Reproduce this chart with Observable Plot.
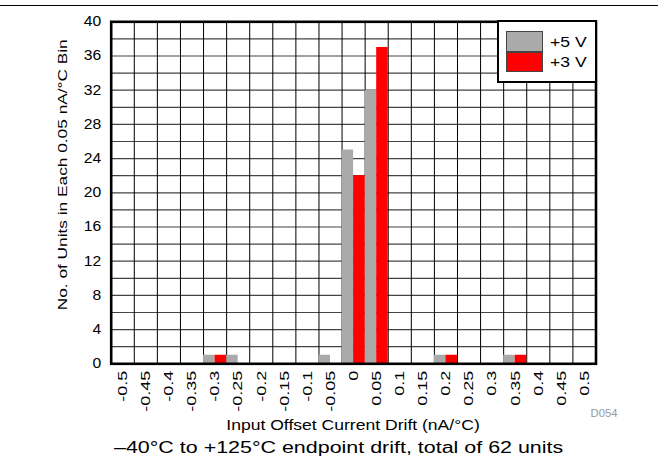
<!DOCTYPE html>
<html>
<head>
<meta charset="utf-8">
<script src="https://cdn.jsdelivr.net/npm/d3@7"></script>
<script src="https://cdn.jsdelivr.net/npm/@observablehq/plot@0.6"></script>
<style>
  html, body { margin: 0; padding: 0; background: #fff; }
  #wrap { position: relative; width: 658px; height: 464px; overflow: hidden;
          font-family: "Liberation Sans", Arial, Helvetica, sans-serif; }
  #topline { position: absolute; left: 0; top: 5px; width: 658px; height: 0; border-top: 1.6px solid #000; }
  #legend { position: absolute; left: 496.5px; top: 20px; width: 100.3px; height: 63px;
            box-sizing: border-box; border: 2.5px solid #000; background: #fff; }
  .sw { position: absolute; left: 506px; width: 36.7px; height: 20.7px; box-sizing: border-box; border: 1px solid #444; }
  .lt { position: absolute; left: 550px; font-size: 15px; line-height: 15px; color: #000; white-space: nowrap;
        transform: scaleX(1.17); transform-origin: 0 0; }
</style>
</head>
<body>
<div id="wrap"></div>
<script>
// ---- data ----
const binLabels = ["-0.5","-0.45","-0.4","-0.35","-0.3","-0.25","-0.2","-0.15","-0.1","-0.05","0","0.05","0.1","0.15","0.2","0.25","0.3","0.35","0.4","0.45","0.5"];
const binCenters = [-0.5,-0.45,-0.4,-0.35,-0.3,-0.25,-0.2,-0.15,-0.1,-0.05,0,0.05,0.1,0.15,0.2,0.25,0.3,0.35,0.4,0.45,0.5];
const units5V = [0,0,0,0,1,1,0,0,0,1,25,32,0,0,1,0,0,1,0,0,0];
const units3V = [0,0,0,0,1,0,0,0,0,0,22,37,0,0,1,0,0,1,0,0,0];
const seriesNames = ["+5 V", "+3 V"];
const seriesColors = ["#aaaaaa", "#ff0000"];
const yTicks = [0,4,8,12,16,20,24,28,32,36,40];
const yGrid = [2,4,6,8,10,12,14,16,18,20,22,24,26,28,30,32,34,36,38];
const binWidth = 0.05;
const xTitle = "Input Offset Current Drift (nA/°C)";
const yTitle = "No. of Units in Each 0.05 nA/°C Bin";
const caption = "–40°C to +125°C endpoint drift, total of 62 units";
const figureId = "D054";

// ---- build ----
const half = binWidth / 2;
const rows5 = binCenters.map((c, i) => ({c, v: units5V[i], s: seriesNames[0]}));
const rows3 = binCenters.map((c, i) => ({c, v: units3V[i], s: seriesNames[1]}));
const edges = binCenters.slice(1).map(c => c - half);
const font = '"Liberation Sans", Arial, Helvetica, sans-serif';

const chart = Plot.plot({
  width: 658,
  height: 464,
  marginLeft: 110.7,
  marginRight: 62.5,
  marginTop: 21.3,
  marginBottom: 100.7,
  x: {domain: [binCenters[0] - half, binCenters[binCenters.length - 1] + half]},
  y: {domain: [0, 40]},
  color: {domain: seriesNames, range: seriesColors},
  style: {fontFamily: font, fontSize: "13px", color: "#000", background: "transparent", overflow: "visible"},
  marks: [
    Plot.ruleY(yGrid, {stroke: "#444", strokeWidth: 1.2}),
    Plot.ruleX(edges, {stroke: "#000", strokeWidth: 1}),
    Plot.rect(rows5, {x1: d => d.c - half, x2: d => d.c, y1: 0, y2: "v", fill: "s"}),
    Plot.rect(rows3, {x1: d => d.c, x2: d => d.c + half, y1: 0, y2: "v", fill: "s"}),
    Plot.frame({stroke: "#000", strokeWidth: 2.6}),
    Plot.rect(rows3.filter(d => d.v === 0), {x1: d => d.c, x2: d => d.c + half, y1: 0, y2: 0, stroke: seriesColors[1], strokeWidth: 1, strokeOpacity: 0.55, dy: -1}),
    Plot.axisX({ticks: binCenters, tickFormat: d => binLabels[binCenters.indexOf(d)], tickRotate: -90, tickSize: 0, tickPadding: 7, label: null, fontSize: 13.5}),
    Plot.axisY({ticks: yTicks, tickSize: 0, tickPadding: 10, label: null, fontSize: 14}),
    Plot.text([yTitle], {text: d => d, frameAnchor: "left", textAnchor: "middle", rotate: -90, dx: -48.7, dy: -18, fontSize: 13.5, lineAnchor: "middle"}),
    Plot.text([xTitle], {text: d => d, frameAnchor: "bottom", textAnchor: "middle", dx: -0.6, dy: 61, fontSize: 15, lineAnchor: "middle"}),
    Plot.text([caption], {text: d => d, frameAnchor: "bottom", textAnchor: "middle", dx: -15, dy: 84, fontSize: 16, lineAnchor: "middle"}),
    Plot.text([figureId], {text: d => d, frameAnchor: "bottom-right", dx: 8, dy: 50, fontSize: 10, fill: "#999", textAnchor: "middle", lineAnchor: "middle"})
  ]
});

const wrap = document.getElementById("wrap");
wrap.appendChild(chart);

// widen the glyphs along the reading direction, as in the reference
function stretch(el, f) {
  const L = el.getComputedTextLength();
  if (L > 0) {
    el.setAttribute("textLength", (L * f).toFixed(2));
    el.setAttribute("lengthAdjust", "spacingAndGlyphs");
  }
}
chart.querySelectorAll('g[aria-label="x-axis tick label"] text').forEach(el => stretch(el, 1.33));
chart.querySelectorAll('g[aria-label="y-axis tick label"] text').forEach(el => stretch(el, 1.12));
chart.querySelectorAll("text").forEach(el => {
  const t = el.textContent;
  if (t === yTitle) stretch(el, 1.28);
  else if (t === xTitle) stretch(el, 1.17);
  else if (t === caption) stretch(el, 1.34);
  else if (t === figureId) stretch(el, 1.13);
});

const topLine = document.createElement("div");
topLine.id = "topline";
wrap.appendChild(topLine);

const legendBox = document.createElement("div");
legendBox.id = "legend";
wrap.appendChild(legendBox);
seriesNames.forEach((name, i) => {
  const sw = document.createElement("div");
  sw.className = "sw";
  sw.style.top = (31 + i * 20.7) + "px";
  sw.style.background = seriesColors[i];
  wrap.appendChild(sw);
  const lt = document.createElement("div");
  lt.className = "lt";
  lt.style.top = (34 + i * 19.7) + "px";
  lt.textContent = name;
  wrap.appendChild(lt);
});
</script>
</body>
</html>
